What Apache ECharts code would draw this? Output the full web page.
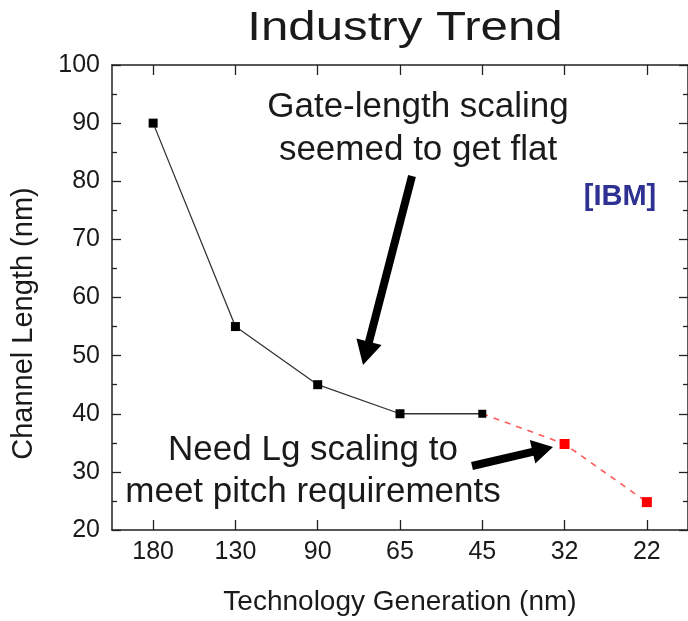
<!DOCTYPE html>
<html>
<head>
<meta charset="utf-8">
<title>Industry Trend</title>
<script src="https://cdn.jsdelivr.net/npm/echarts@6/dist/echarts.min.js"></script>
<style>
  html, body { margin: 0; padding: 0; background: #ffffff; }
  #chart { width: 688px; height: 621px; }
</style>
</head>
<body>
<div id="chart"></div>
<script>
// Technology generations (nm) along the x axis
const generations = ['180', '130', '90', '65', '45', '32', '22'];
// Measured channel length (nm) per generation
const channelLength = [90, 55, 45, 40, 40, null, null];
// Required channel length to meet pitch, continuing from 45 nm
const requiredLength = [null, null, null, null, 40, 34.8, 24.8];

const yMin = 20, yMax = 100, yStep = 10;
const FONT = '"Liberation Sans", Arial, Helvetica, sans-serif';
const INK = '#1a1a1a';

// Build a filled arrow polygon from tail to tip
function arrowPoints(tail, tip, shaft, headLen, headWidth) {
  const dx = tip[0] - tail[0], dy = tip[1] - tail[1];
  const len = Math.hypot(dx, dy);
  const ux = dx / len, uy = dy / len;
  const px = -uy, py = ux;
  const bx = tip[0] - ux * headLen, by = tip[1] - uy * headLen;
  const s = shaft / 2, h = headWidth / 2;
  return [
    [tail[0] + px * s, tail[1] + py * s],
    [bx + px * s, by + py * s],
    [bx + px * h, by + py * h],
    [tip[0], tip[1]],
    [bx - px * h, by - py * h],
    [bx - px * s, by - py * s],
    [tail[0] - px * s, tail[1] - py * s]
  ];
}

const chart = echarts.init(document.getElementById('chart'), null, { renderer: 'canvas' });

const axisLine = { show: true, lineStyle: { color: '#222', width: 1.5 } };
const yTick = { show: true, inside: true, length: 9, lineStyle: { color: '#222', width: 1.3 } };
const yMinor = { show: true, splitNumber: 2, length: 5, lineStyle: { color: '#222', width: 1.3 } };
const xTick = { show: true, inside: true, length: 10, alignWithLabel: true, lineStyle: { color: '#222', width: 1.3 } };

chart.setOption({
  animation: false,
  backgroundColor: '#ffffff',
  grid: { left: 112, top: 65, width: 581, height: 470, containLabel: false },
  xAxis: [
    {
      type: 'category',
      data: generations,
      position: 'bottom',
      boundaryGap: true,
      axisLine: axisLine,
      axisTick: xTick,
      axisLabel: { color: INK, fontFamily: FONT, fontSize: 25, margin: 10 },
      splitLine: { show: false },
      name: 'Technology Generation (nm)',
      nameLocation: 'middle',
      nameGap: 58,
      nameTextStyle: { color: INK, fontFamily: FONT, fontSize: 28 }
    },
    {
      type: 'category',
      data: generations,
      position: 'top',
      boundaryGap: true,
      axisLine: axisLine,
      axisTick: xTick,
      axisLabel: { show: false },
      splitLine: { show: false }
    }
  ],
  yAxis: [
    {
      type: 'value',
      min: yMin, max: yMax, interval: yStep,
      position: 'left',
      axisLine: axisLine,
      axisTick: yTick,
      minorTick: yMinor,
      axisLabel: { color: INK, fontFamily: FONT, fontSize: 25, margin: 12 },
      splitLine: { show: false },
      name: 'Channel Length (nm)',
      nameLocation: 'middle',
      nameGap: 74,
      nameTextStyle: { color: INK, fontFamily: FONT, fontSize: 29, padding: [0, 52, 0, 0] }
    },
    {
      type: 'value',
      min: yMin, max: yMax, interval: yStep,
      position: 'right',
      axisLine: axisLine,
      axisTick: yTick,
      minorTick: yMinor,
      axisLabel: { show: false },
      splitLine: { show: false }
    }
  ],
  series: [
    {
      name: 'Required',
      type: 'line',
      data: requiredLength.map((v, i) => i === 4 ? { value: v, symbolSize: 0 } : v),
      connectNulls: false,
      symbol: 'rect',
      symbolSize: 10,
      itemStyle: { color: '#ff0000' },
      lineStyle: { color: '#ff5a5a', width: 1.6, type: [6, 6] },
      z: 2
    },
    {
      name: 'Measured',
      type: 'line',
      data: channelLength.map((v, i) => i === 4 ? { value: v, symbolSize: 8 } : v),
      symbol: 'rect',
      symbolSize: 9,
      itemStyle: { color: '#000000' },
      lineStyle: { color: '#333333', width: 1.3 },
      z: 3
    }
  ],
  graphic: [
    {
      type: 'text',
      x: 405, y: 29,
      scaleX: 1.23,
      style: {
        text: 'Industry Trend',
        x: 0, y: 0,
        font: '40px ' + FONT,
        fill: INK,
        align: 'center',
        verticalAlign: 'middle'
      }
    },
    {
      type: 'text',
      style: {
        text: 'Gate-length scaling\nseemed to get flat',
        x: 418, y: 129,
        font: '35px ' + FONT,
        lineHeight: 43,
        fill: INK,
        align: 'center',
        verticalAlign: 'middle'
      }
    },
    {
      type: 'text',
      style: {
        text: 'Need Lg scaling to\nmeet pitch requirements',
        x: 313, y: 471,
        font: '35px ' + FONT,
        lineHeight: 42,
        fill: INK,
        align: 'center',
        verticalAlign: 'middle'
      }
    },
    {
      type: 'text',
      style: {
        text: '[IBM]',
        x: 620, y: 197,
        font: 'bold 29px ' + FONT,
        fill: '#2e3192',
        align: 'center',
        verticalAlign: 'middle'
      }
    },
    {
      type: 'polygon',
      shape: { points: arrowPoints([412, 176], [363, 365], 8, 24, 26) },
      style: { fill: '#000000' }
    },
    {
      type: 'polygon',
      shape: { points: arrowPoints([472, 466], [553, 447], 8, 21, 24) },
      style: { fill: '#000000' }
    }
  ]
});
</script>
</body>
</html>
